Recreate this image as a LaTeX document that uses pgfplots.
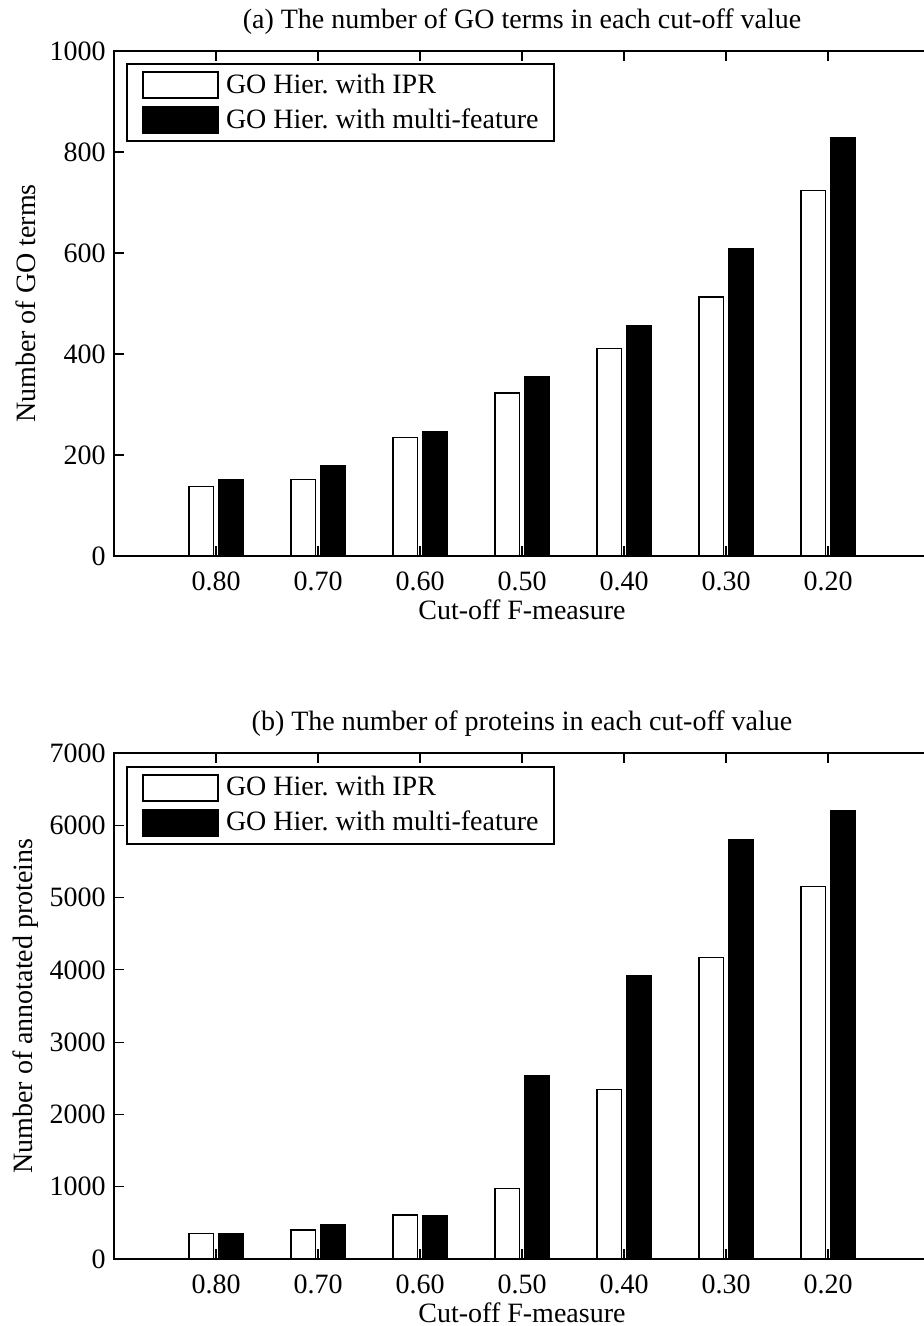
\documentclass[border=0pt]{standalone}
\usepackage{fontspec}
\setmainfont{Liberation Serif}
\usepackage{pgfplots}
\pgfplotsset{compat=1.18}
\frenchspacing

\pgfplotsset{
  mystyle/.style={
    scale only axis, width=408pt,
    xmin=0, xmax=8, ymin=0,
    xtick={1,...,7},
    xticklabels={0.80,0.70,0.60,0.50,0.40,0.30,0.20},
    tick align=inside, major tick length=5pt,
    ytick pos=left, xtick pos=both,
    axis line style={line width=1pt},
    every tick/.style={black, line width=0.6pt},
    font=\fontsize{14}{16}\selectfont,
    /pgf/number format/assume math mode=true,
    /pgf/number format/1000 sep={},
    scaled y ticks=false,
    xticklabel style={anchor=base, yshift=-17pt, inner sep=0pt},
    yticklabel style={anchor=east, inner sep=0pt, xshift=-4pt},
    xlabel={Cut-off F-measure},
    xlabel style={at={(axis description cs:0.5,0)}, anchor=base, yshift=-31.5pt, inner sep=0pt},
    ylabel style={at={(axis description cs:-0.1078,0.5)}, anchor=center, inner sep=0pt},
    title style={at={(axis description cs:0.5,1)}, anchor=base, yshift=5.25pt, inner sep=0pt},
    legend style={at={(axis description cs:0,1)}, anchor=north west, xshift=6pt, yshift=-6.25pt,
      draw=black, line width=1pt, inner xsep=7.5pt, inner ysep=3.5pt,
      row sep=3.5pt, column sep=3.5pt, nodes={inner sep=0pt, anchor=west},
      font=\fontsize{14}{16}\selectfont},
    legend cell align=left,
    legend image code/.code={\draw[##1, line width=1pt] (0pt,-6.5pt) rectangle (37.5pt,6.5pt);},
  },
  ipr/.style={ybar, bar width=0.24, bar shift=-0.145, fill=white, draw=black, line width=0.7pt},
  multi/.style={ybar, bar width=0.24, bar shift=0.145, fill=black, draw=black, line width=0.7pt},
}

\begin{document}
\begin{tikzpicture}
\begin{axis}[mystyle, at={(57pt,-278pt)}, anchor=south west, height=252.5pt,
  ymax=1000, ytick={0,200,400,600,800,1000},
  title={(a) The number of GO terms in each cut-off value},
  ylabel={Number of GO terms}]
\addplot[ipr] coordinates {(1,138) (2,151) (3,235) (4,323) (5,411) (6,513) (7,724)};
\addplot[multi] coordinates {(1,151) (2,178) (3,246) (4,355) (5,456) (6,608) (7,828)};
\legend{GO Hier. with IPR, GO Hier. with multi-feature}
\end{axis}
\begin{axis}[mystyle, at={(57pt,-629.5pt)}, anchor=south west, height=253pt,
  ymax=7000, ytick={0,1000,2000,3000,4000,5000,6000,7000},
  title={(b) The number of proteins in each cut-off value},
  ylabel={Number of annotated proteins}]
\addplot[ipr] coordinates {(1,355) (2,401) (3,608) (4,973) (5,2342) (6,4168) (7,5150)};
\addplot[multi] coordinates {(1,355) (2,470) (3,603) (4,2531) (5,3924) (6,5805) (7,6200)};
\legend{GO Hier. with IPR, GO Hier. with multi-feature}
\end{axis}
\pgfresetboundingbox
\useasboundingbox (0pt,0pt) rectangle (461.5pt,-663pt);
\end{tikzpicture}
\end{document}
